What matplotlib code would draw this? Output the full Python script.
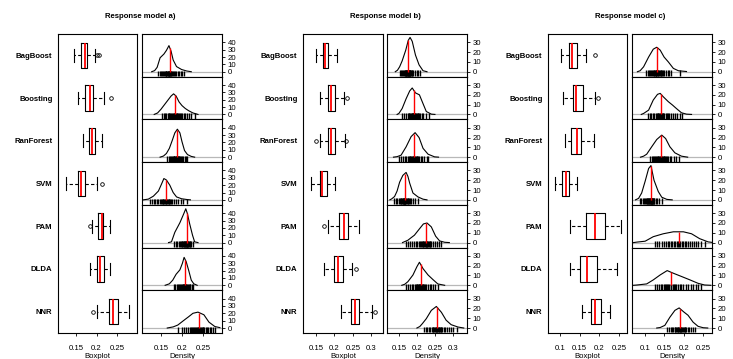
import matplotlib;matplotlib.use("Agg")
import matplotlib.pyplot as plt
import numpy as np

plt.rcParams['font.family'] = ['Liberation Sans', 'DejaVu Sans']

methods = ['BagBoost', 'Boosting', 'RanForest', 'SVM', 'PAM', 'DLDA', 'NNR']

# boxplot stats, one value per method: whisker low, q1, median, q3, whisker high, outliers
lo_a  = [0.146, 0.156, 0.168, 0.126, 0.188, 0.183, 0.202]
q1_a  = [0.162, 0.172, 0.181, 0.154, 0.204, 0.202, 0.229]
med_a = [0.171, 0.183, 0.188, 0.163, 0.212, 0.208, 0.241]
q3_a  = [0.176, 0.192, 0.196, 0.173, 0.216, 0.218, 0.253]
hi_a  = [0.196, 0.218, 0.214, 0.200, 0.232, 0.232, 0.279]
out_a = [[0.200, 0.205], [0.234], [], [0.212], [0.183], [], [0.191]]

lo_b  = [0.151, 0.160, 0.162, 0.136, 0.182, 0.171, 0.219]
q1_b  = [0.168, 0.182, 0.182, 0.162, 0.212, 0.200, 0.245]
med_b = [0.176, 0.191, 0.191, 0.166, 0.225, 0.210, 0.256]
q3_b  = [0.183, 0.202, 0.202, 0.180, 0.236, 0.223, 0.268]
hi_b  = [0.207, 0.225, 0.228, 0.203, 0.268, 0.249, 0.301]
out_b = [[], [0.234], [0.151, 0.232], [], [0.171], [0.259], [0.311]]

lo_c  = [0.103, 0.108, 0.113, 0.086, 0.125, 0.125, 0.157]
q1_c  = [0.122, 0.133, 0.129, 0.105, 0.166, 0.151, 0.178]
med_c = [0.130, 0.141, 0.142, 0.115, 0.188, 0.168, 0.190]
q3_c  = [0.144, 0.159, 0.154, 0.122, 0.215, 0.194, 0.204]
hi_c  = [0.167, 0.189, 0.187, 0.143, 0.255, 0.245, 0.228]
out_c = [[0.189], [0.196], [], [], [], [], []]

# density curves (x, y) per method
dx_a = [[0.128,0.135,0.141,0.148,0.157,0.163,0.169,0.174,0.179,0.187,0.199,0.211,0.222],
        [0.134,0.142,0.150,0.158,0.166,0.174,0.180,0.186,0.193,0.200,0.208,0.216,0.226,0.238],
        [0.148,0.156,0.163,0.170,0.177,0.183,0.189,0.195,0.200,0.206,0.213,0.222,0.230],
        [0.108,0.120,0.132,0.144,0.151,0.157,0.163,0.171,0.179,0.187,0.199,0.211,0.220],
        [0.168,0.175,0.183,0.195,0.204,0.209,0.213,0.218,0.225,0.230,0.238],
        [0.160,0.170,0.178,0.186,0.195,0.201,0.205,0.210,0.216,0.222,0.228,0.236],
        [0.165,0.179,0.190,0.199,0.208,0.215,0.226,0.238,0.252,0.264,0.278,0.290]]
dy_a = [[0,1.5,6,19,24,29,35.5,28,16,7,3,1,0],
        [0,2,7,13,19,25,28,25,17,12,8,5,2,0],
        [0,1.5,5,12,23,33,38,33,21,9,3.5,1,0],
        [0,1,5,12,21,29,27,20,10,4,1.5,0.5,0],
        [0,1,14,27,39,46,39,26,10,1,0],
        [0,2,7,15,21,30,38,32,20,7,2,0],
        [0,1.5,4,8,12,15,20,21.6,18,8,2,0.5]]

dx_b = [[0.140,0.146,0.152,0.159,0.169,0.176,0.181,0.187,0.196,0.206,0.217,0.228],
        [0.145,0.150,0.159,0.170,0.180,0.187,0.196,0.207,0.217,0.226,0.240,0.250],
        [0.135,0.145,0.156,0.170,0.184,0.195,0.206,0.217,0.231,0.249,0.260],
        [0.125,0.130,0.138,0.145,0.152,0.161,0.170,0.175,0.180,0.189,0.203,0.217,0.228],
        [0.160,0.175,0.184,0.193,0.207,0.218,0.228,0.240,0.252,0.263,0.277,0.290],
        [0.158,0.166,0.175,0.189,0.200,0.207,0.217,0.231,0.244,0.258,0.277],
        [0.200,0.208,0.215,0.226,0.240,0.254,0.268,0.281,0.295,0.314,0.330]]
dy_b = [[0,1.5,5,11,22,32,35,31,17,7,1,0],
        [0,1,6,16,24,27,22,20,11,3,0.3,0],
        [0,0.5,2,10.5,21,25,20,9,3,0.3,0],
        [0,1,3.4,9,18,25,28,24,17,7,3,0.7,0],
        [0,2.4,5,7.5,14,19,20,16,6.5,1.7,0.3,0],
        [0,1,3.7,10.5,19,23.5,17,10.5,6,1.4,0],
        [0,1.5,4.4,9.5,18,22,16,8,3.4,1,0]]

dx_c = [[0.080,0.087,0.096,0.109,0.121,0.130,0.139,0.149,0.160,0.173,0.186,0.207],
        [0.090,0.096,0.109,0.121,0.132,0.139,0.147,0.160,0.171,0.181,0.194,0.207,0.220],
        [0.088,0.096,0.104,0.117,0.130,0.143,0.153,0.164,0.177,0.194,0.210],
        [0.075,0.083,0.091,0.100,0.109,0.115,0.123,0.134,0.143,0.156,0.170],
        [0.070,0.079,0.100,0.121,0.147,0.173,0.199,0.220,0.241,0.263,0.273],
        [0.070,0.079,0.104,0.121,0.139,0.157,0.173,0.194,0.216,0.237,0.254,0.270],
        [0.130,0.139,0.151,0.164,0.177,0.188,0.200,0.211,0.224,0.237,0.250,0.262]]
dy_c = [[0,1,5,15,23,25,22,15,10,3.4,1,0.2],
        [0,1,4.4,14.7,20.5,21.5,18,13,9.5,6,1.7,0.3,0],
        [0,1,3,10.6,18,22.5,19,10.6,4.4,1,0],
        [0,1.5,7,19,32,35,20,8.5,2.7,0.5,0],
        [0,0.5,1.4,6,9,11,11,9,4,0.7,0.2],
        [0,0.3,1.4,5.5,10.6,15,12.3,9,5.5,2,0.3,0],
        [0,0.5,2.7,11,18,20.5,16.4,13,6,1.7,0.3,0]]

# rug (observed values, estimated)
rug_a = [[0.144,0.147,0.150,0.153,0.155,0.157,0.159,0.161,0.162,0.163,0.165,0.166,0.167,0.168,0.169,0.170,0.171,0.172,0.173,0.174,0.176,0.178,0.180,0.183,0.186,0.190,0.194,0.197,0.200,0.205],
         [0.153,0.157,0.160,0.163,0.166,0.168,0.170,0.172,0.174,0.176,0.178,0.180,0.181,0.183,0.185,0.187,0.189,0.191,0.193,0.195,0.198,0.201,0.204,0.208,0.212,0.217,0.222,0.231],
         [0.164,0.168,0.171,0.174,0.176,0.178,0.180,0.181,0.182,0.184,0.185,0.186,0.187,0.188,0.189,0.190,0.191,0.193,0.194,0.196,0.198,0.200,0.203,0.206,0.209,0.212],
         [0.124,0.128,0.133,0.137,0.141,0.144,0.147,0.150,0.152,0.154,0.156,0.158,0.160,0.161,0.163,0.164,0.166,0.168,0.170,0.172,0.174,0.177,0.181,0.186,0.191,0.197,0.203,0.211],
         [0.182,0.186,0.189,0.192,0.195,0.197,0.199,0.201,0.203,0.204,0.205,0.207,0.208,0.209,0.210,0.211,0.212,0.213,0.214,0.215,0.216,0.218,0.220,0.222,0.226],
         [0.180,0.184,0.187,0.190,0.193,0.196,0.198,0.200,0.202,0.203,0.204,0.205,0.206,0.207,0.208,0.209,0.210,0.212,0.214,0.216,0.218,0.220,0.223,0.226],
         [0.191,0.200,0.205,0.210,0.214,0.218,0.221,0.224,0.227,0.229,0.231,0.233,0.235,0.237,0.239,0.241,0.243,0.245,0.247,0.249,0.251,0.253,0.256,0.259,0.262,0.266,0.270,0.274,0.279]]
rug_b = [[0.152,0.156,0.159,0.162,0.164,0.166,0.168,0.169,0.170,0.171,0.172,0.173,0.174,0.175,0.176,0.177,0.178,0.179,0.180,0.181,0.182,0.183,0.185,0.187,0.190,0.194,0.199,0.204,0.208],
         [0.160,0.165,0.170,0.174,0.177,0.179,0.181,0.183,0.185,0.186,0.188,0.189,0.190,0.191,0.193,0.194,0.196,0.198,0.200,0.202,0.204,0.206,0.209,0.213,0.218,0.224,0.234],
         [0.151,0.157,0.162,0.167,0.171,0.175,0.178,0.180,0.182,0.184,0.186,0.188,0.190,0.191,0.193,0.195,0.197,0.199,0.201,0.203,0.206,0.210,0.215,0.221,0.228,0.232],
         [0.136,0.141,0.145,0.149,0.152,0.155,0.157,0.159,0.161,0.162,0.163,0.164,0.165,0.166,0.167,0.168,0.170,0.172,0.174,0.176,0.178,0.180,0.183,0.188,0.194,0.203],
         [0.171,0.176,0.182,0.187,0.192,0.197,0.201,0.205,0.208,0.211,0.213,0.216,0.218,0.220,0.222,0.224,0.225,0.227,0.229,0.231,0.233,0.235,0.237,0.240,0.244,0.249,0.255,0.262,0.268],
         [0.171,0.176,0.181,0.186,0.190,0.194,0.197,0.199,0.201,0.203,0.205,0.207,0.208,0.209,0.210,0.212,0.214,0.216,0.218,0.220,0.223,0.226,0.230,0.235,0.240,0.245,0.249,0.259],
         [0.219,0.224,0.229,0.233,0.237,0.241,0.244,0.246,0.248,0.250,0.252,0.254,0.255,0.256,0.258,0.260,0.262,0.264,0.266,0.268,0.271,0.274,0.278,0.283,0.289,0.295,0.301,0.311]]
rug_c = [[0.103,0.107,0.110,0.113,0.116,0.118,0.120,0.122,0.124,0.125,0.127,0.128,0.129,0.130,0.132,0.134,0.136,0.138,0.140,0.142,0.144,0.147,0.150,0.154,0.158,0.162,0.167,0.189],
         [0.108,0.112,0.116,0.120,0.124,0.127,0.130,0.132,0.134,0.136,0.138,0.140,0.141,0.143,0.145,0.147,0.150,0.153,0.156,0.159,0.163,0.167,0.172,0.177,0.183,0.189,0.196],
         [0.113,0.117,0.120,0.123,0.126,0.128,0.130,0.132,0.134,0.136,0.138,0.140,0.141,0.142,0.144,0.146,0.148,0.150,0.152,0.154,0.157,0.160,0.164,0.168,0.174,0.181,0.187],
         [0.086,0.090,0.094,0.097,0.100,0.102,0.104,0.106,0.107,0.108,0.110,0.111,0.112,0.113,0.114,0.115,0.116,0.117,0.118,0.119,0.120,0.121,0.122,0.124,0.127,0.131,0.136,0.143],
         [0.125,0.131,0.137,0.143,0.148,0.153,0.158,0.162,0.166,0.170,0.174,0.178,0.182,0.186,0.188,0.191,0.195,0.199,0.203,0.207,0.211,0.215,0.220,0.226,0.232,0.238,0.245,0.255],
         [0.125,0.130,0.135,0.140,0.144,0.148,0.151,0.154,0.157,0.160,0.163,0.166,0.168,0.171,0.174,0.177,0.181,0.185,0.189,0.194,0.199,0.205,0.211,0.218,0.225,0.232,0.238,0.245],
         [0.157,0.162,0.166,0.170,0.173,0.176,0.178,0.180,0.182,0.184,0.186,0.188,0.189,0.190,0.192,0.194,0.196,0.198,0.200,0.202,0.204,0.207,0.210,0.214,0.218,0.223,0.228]]

titles = ['Response model a)', 'Response model b)', 'Response model c)']
xticks_a = [0.15, 0.2, 0.25]
xticks_b = [0.15, 0.2, 0.25, 0.3]
xticks_c = [0.1, 0.15, 0.2, 0.25]
yticks_a = [0, 10, 20, 30, 40]
yticks_bc = [0, 10, 20, 30]

W, H = 733, 359
TOP, BOT = 34, 333

def rect(x0, y0, x1, y1):
    return [x0 / W, 1 - y1 / H, (x1 - x0) / W, (y1 - y0) / H]

def fmt(v):
    return ('%.2f' % v).rstrip('0')

panels = [
    dict(box=(58, 137), dens=(142, 222), bxlim=(0.1065, 0.298), dxlim=(0.105, 0.295),
         xt=xticks_a, yt=yticks_a, ylim=(-6.8, 51.3),
         lo=lo_a, q1=q1_a, med=med_a, q3=q3_a, hi=hi_a, out=out_a, dx=dx_a, dy=dy_a, rug=rug_a),
    dict(box=(303, 383), dens=(387, 467), bxlim=(0.115, 0.332), dxlim=(0.117, 0.339),
         xt=xticks_b, yt=yticks_bc, ylim=(-5.1, 38.5),
         lo=lo_b, q1=q1_b, med=med_b, q3=q3_b, hi=hi_b, out=out_b, dx=dx_b, dy=dy_b, rug=rug_b),
    dict(box=(548, 627), dens=(632, 712), bxlim=(0.0695, 0.27), dxlim=(0.066, 0.273),
         xt=xticks_c, yt=yticks_bc, ylim=(-5.1, 38.5),
         lo=lo_c, q1=q1_c, med=med_c, q3=q3_c, hi=hi_c, out=out_c, dx=dx_c, dy=dy_c, rug=rug_c),
]

fs = 5.6
fig = plt.figure(figsize=(W / 100, H / 100), dpi=100)

for k, p in enumerate(panels):
    # boxplot column
    ax = fig.add_axes(rect(p['box'][0], TOP, p['box'][1], BOT))
    stats = []
    for i in range(len(methods)):
        stats.append(dict(whislo=p['lo'][i], q1=p['q1'][i], med=p['med'][i], q3=p['q3'][i],
                          whishi=p['hi'][i], fliers=p['out'][i]))
    ax.bxp(stats, positions=range(1, 8), orientation='horizontal', widths=0.6, capwidths=0.3,
           boxprops=dict(color='black', lw=0.8),
           whiskerprops=dict(color='black', lw=0.8, ls=(0, (3, 2))),
           capprops=dict(color='black', lw=0.8),
           medianprops=dict(color='red', lw=1.3),
           flierprops=dict(marker='o', ms=2.6, mfc='none', mec='black', mew=0.6))
    ax.set_ylim(7.5, 0.5)
    ax.set_xlim(*p['bxlim'])
    ax.set_yticks(range(1, 8))
    ax.set_yticklabels(methods, fontweight='bold', fontsize=fs)
    ax.tick_params(axis='y', length=0, pad=4)
    ax.set_xticks(p['xt'])
    ax.set_xticklabels([fmt(v) for v in p['xt']], fontsize=fs)
    ax.tick_params(axis='x', direction='out', length=2.5, width=0.6, pad=6)
    for s in ax.spines.values():
        s.set_linewidth(0.8)
    cx = (p['box'][0] + p['box'][1]) / 2 / W
    fig.text(cx, 1 - 352.5 / H, 'Boxplot', ha='center', va='top', fontsize=fs)

    # density column, one small panel per method
    x0, x1 = p['dens']
    h = (BOT - TOP) / 7.0
    for i, m in enumerate(methods):
        ax = fig.add_axes(rect(x0, TOP + i * h, x1, TOP + (i + 1) * h))
        ax.axhline(0, color='#b8b8b8', lw=0.9, zorder=1)
        ax.vlines(p['rug'][i], p['ylim'][0] + 0.6, 1.5, color='black', lw=1.0, zorder=2)
        ax.plot(p['dx'][i], p['dy'][i], color='black', lw=0.8, zorder=3)
        md = p['med'][i]
        ax.vlines([md], 0, np.interp(md, p['dx'][i], p['dy'][i]), color='red', lw=1.0, zorder=4)
        ax.set_xlim(*p['dxlim'])
        ax.set_ylim(*p['ylim'])
        ax.yaxis.tick_right()
        ax.set_yticks(p['yt'])
        ax.set_yticklabels([str(v) for v in p['yt']], fontsize=fs)
        ax.tick_params(axis='y', direction='out', length=2.5, width=0.6, pad=1.5)
        if i == len(methods) - 1:
            ax.set_xticks(p['xt'])
            ax.set_xticklabels([fmt(v) for v in p['xt']], fontsize=fs)
            ax.tick_params(axis='x', direction='out', length=2.5, width=0.6, pad=6)
        else:
            ax.set_xticks([])
        for s in ax.spines.values():
            s.set_linewidth(0.8)
    cx = (x0 + x1) / 2 / W
    fig.text(cx, 1 - 352.5 / H, 'Density', ha='center', va='top', fontsize=fs)

    tx = (p['box'][0] + p['dens'][1]) / 2 / W
    fig.text(tx, 1 - 16 / H, titles[k], ha='center', va='center', fontsize=fs, fontweight='bold')

fig.savefig('out.png', dpi=100)
